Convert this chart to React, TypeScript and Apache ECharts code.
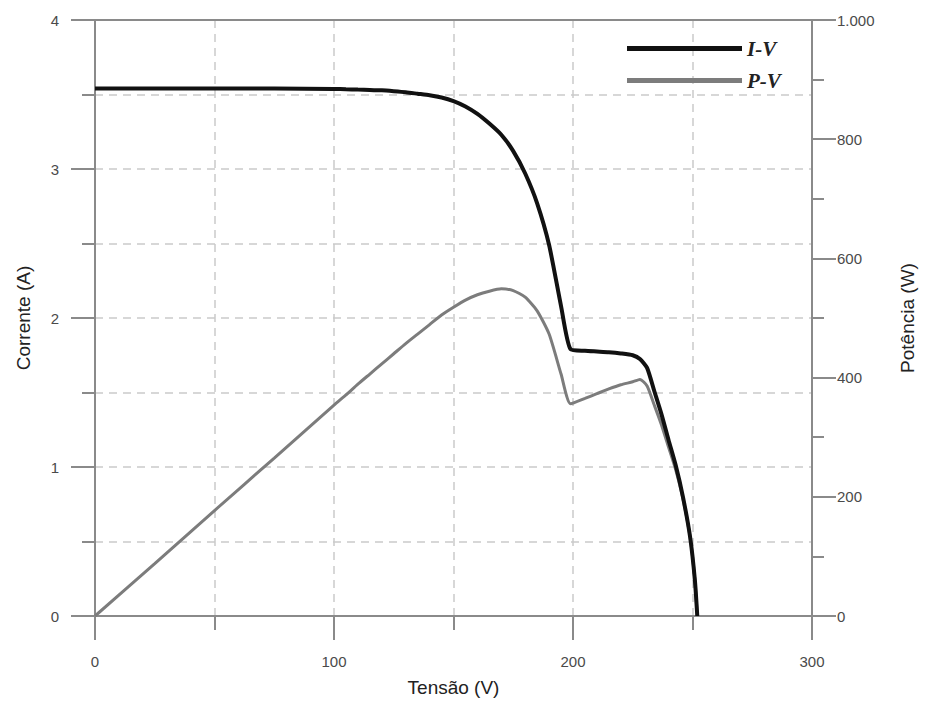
import React, { useEffect, useRef } from "react";
import * as echarts from "echarts";

const voltage = [0, 25, 50, 75, 100, 105, 110, 115, 120, 125, 130, 135, 140, 145, 150, 155, 160, 165, 170, 175, 180, 185, 190, 195, 199, 205, 210, 215, 220, 225, 228, 231, 234, 237, 240, 243, 246, 249, 251, 252];
const current = [3.54, 3.54, 3.54, 3.54, 3.537, 3.535, 3.533, 3.531, 3.528, 3.522, 3.515, 3.505, 3.495, 3.48, 3.456, 3.42, 3.37, 3.305, 3.23, 3.12, 2.97, 2.77, 2.49, 2.08, 1.79, 1.78, 1.775, 1.77, 1.762, 1.75, 1.725, 1.665, 1.51, 1.355, 1.18, 1.01, 0.8, 0.53, 0.24, 0];
const power = [0, 88, 177, 265, 354, 371, 389, 406, 423, 440, 457, 473, 489, 505, 518, 530, 539, 545, 549, 546, 535, 512, 473, 406, 356, 365, 373, 381, 388, 393, 397, 386, 354, 321, 283, 245, 197, 132, 60, 0];

const seriesNames = ["I-V", "P-V"];
const xTitle = "Tensão (V)";
const yLeftTitle = "Corrente (A)";
const yRightTitle = "Potência (W)";

const axisColor = "#8a8a8a";
const gridColor = "#cacaca";
const labelColor = "#4a4a4a";
const font = "'Liberation Sans', Arial, sans-serif";

export default function App() {
  const ref = useRef<HTMLDivElement>(null);
  useEffect(() => {
    if (!ref.current) return;
    const chart = echarts.init(ref.current, undefined, { renderer: "svg" });
    const dashed = { show: true, lineStyle: { color: gridColor, type: [8, 6] as any, width: 1.5 } };
    const axisLine = { show: true, onZero: false, lineStyle: { color: axisColor, width: 2 } };
    const label = { color: labelColor, fontSize: 15, fontFamily: font };
    chart.setOption({
      animation: false,
      backgroundColor: "#ffffff",
      grid: { left: 95, right: 106, top: 20, bottom: 86, containLabel: false },
      legend: {
        show: true,
        orient: "vertical",
        left: 622,
        top: 33,
        icon: "rect",
        itemWidth: 115,
        itemHeight: 5,
        itemGap: 11,
        data: [
          { name: seriesNames[0], itemStyle: { color: "#111111" } },
          { name: seriesNames[1], itemStyle: { color: "#7c7c7c" } },
        ],
        textStyle: { fontFamily: "'Liberation Serif', 'Times New Roman', serif", fontStyle: "italic", fontWeight: "bold", fontSize: 21, color: "#222" },
      },
      xAxis: [
        {
          type: "value",
          min: 0,
          max: 300,
          interval: 100,
          position: "bottom",
          name: xTitle,
          nameLocation: "middle",
          nameGap: 62,
          nameTextStyle: { fontSize: 19, color: "#222", fontFamily: font },
          axisLine,
          axisTick: { show: true, length: 24, lineStyle: { color: axisColor, width: 2 } },
          minorTick: { show: true, splitNumber: 2, length: 14, lineStyle: { color: axisColor, width: 2 } },
          axisLabel: { ...label, margin: 38 },
          splitLine: dashed,
          minorSplitLine: dashed,
        },
        {
          type: "value",
          min: 0,
          max: 300,
          position: "top",
          axisLine,
          axisTick: { show: false },
          axisLabel: { show: false },
          splitLine: { show: false },
        },
      ],
      yAxis: [
        {
          type: "value",
          min: 0,
          max: 4,
          interval: 1,
          position: "left",
          name: yLeftTitle,
          nameLocation: "middle",
          nameGap: 62,
          nameRotate: 90,
          nameTextStyle: { fontSize: 19, color: "#222", fontFamily: font },
          axisLine,
          axisTick: { show: true, length: 24, lineStyle: { color: axisColor, width: 2 } },
          minorTick: { show: true, splitNumber: 2, length: 13, lineStyle: { color: axisColor, width: 2 } },
          axisLabel: { ...label, margin: 36 },
          splitLine: dashed,
          minorSplitLine: dashed,
        },
        {
          type: "value",
          min: 0,
          max: 1000,
          interval: 200,
          position: "right",
          name: yRightTitle,
          nameLocation: "middle",
          nameGap: 86,
          nameRotate: 90,
          nameTextStyle: { fontSize: 19, color: "#222", fontFamily: font },
          axisLine,
          axisTick: { show: true, length: 24, lineStyle: { color: axisColor, width: 2 } },
          minorTick: { show: true, splitNumber: 2, length: 12, lineStyle: { color: axisColor, width: 2 } },
          axisLabel: { ...label, margin: 25, formatter: (v: number) => (v >= 1000 ? "1.000" : String(v)) },
          splitLine: { show: false },
        },
      ],
      series: [
        {
          name: seriesNames[0],
          type: "line",
          xAxisIndex: 0,
          yAxisIndex: 0,
          showSymbol: false,
          symbol: "none",
          smooth: 0.2,
          color: "#111111",
          lineStyle: { color: "#111111", width: 4 },
          data: voltage.map((v, i) => [v, current[i]]),
          z: 3,
        },
        {
          name: seriesNames[1],
          type: "line",
          xAxisIndex: 0,
          yAxisIndex: 1,
          showSymbol: false,
          symbol: "none",
          smooth: 0.2,
          color: "#7c7c7c",
          lineStyle: { color: "#7c7c7c", width: 3 },
          data: voltage.map((v, i) => [v, power[i]]),
          z: 2,
        },
      ],
    });
    return () => chart.dispose();
  }, []);
  return <div ref={ref} style={{ width: 925, height: 702, position: "absolute", left: 0, top: 0 }} />;
}
